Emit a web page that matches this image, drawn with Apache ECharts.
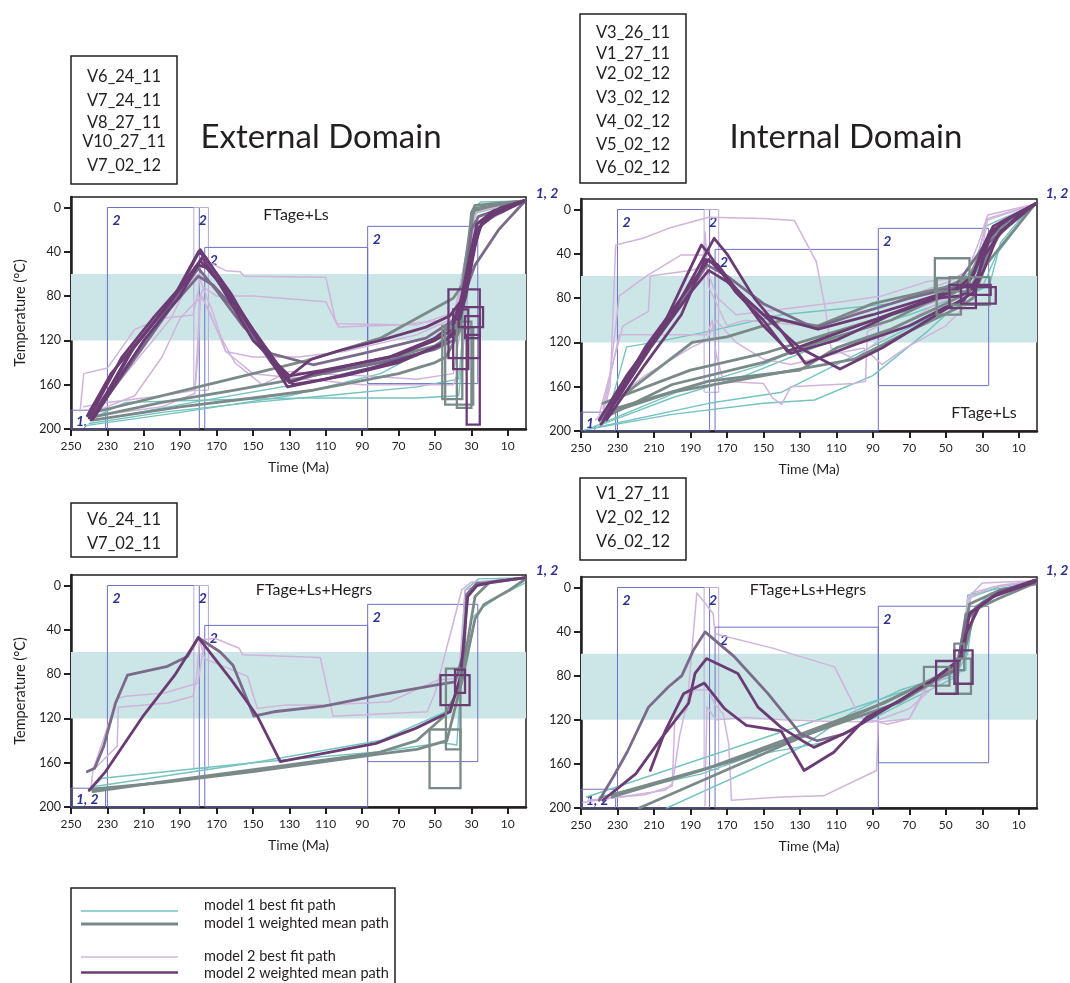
<!DOCTYPE html>
<html><head><meta charset="utf-8">
<script src="https://cdn.jsdelivr.net/npm/echarts@6.0.0/dist/echarts.min.js"></script>
<style>html,body{margin:0;padding:0;background:#fff}#c{width:1070px;height:983px}</style>
</head><body><div id="c"></div><script>
// ---------- axis ticks ----------
const xTicks = [250,230,210,190,170,150,130,110,90,70,50,30,10];
const yTicks = [0,40,80,120,160,200];
const bandRange = [60,120];
// constraint boxes [old Ma, young Ma, Tmin, Tmax]
const constraintBoxes = [[250,231,183,200],[230,179.5,0,200],[182.5,174.5,0,165],[176.5,87,36,200],[87,26.5,17,159]];
const constraintKinds = [0,0,1,0,0];
const constraintLabels = ['1,','2','2','2','2'];

// ---------- Panel 1: External, FTage+Ls ----------
const p1_m1Best = [
 [[240,195],[200,185],[150,176],[110,170],[60,162],[37,155],[35,120],[30,3],[25,-5],[1,-6]],
 [[238,190],[220,176],[180,174],[120,172],[60,172],[37,170],[33,100],[29,2],[20,-4],[1,-6]],
 [[242,197],[190,185],[130,170],[80,150],[45,120],[38,110],[32,60],[28,5],[1,-6]],
 [[236,192],[180,175],[120,158],[75,140],[48,115],[40,105],[30,15],[2,-4]]
];
const p1_m1Mean = [
 [[240,190],[200,176],[160,165],[120,153],[80,138],[50,125],[44,118],[38,115],[33,70],[30,5],[28,-2],[1,-6]],
 [[238,192],[190,180],[150,172],[117,165],[70,150],[50,140],[44,135],[36,110],[32,50],[29,3],[15,-3],[1,-6]],
 [[240,186],[180,162],[120,138],[80,118],[40,82],[35,70],[30,10],[28,1],[1,-6]]
];
const p1_mixMean = [
 [[238,189],[210,125],[195,90],[180,62],[172,70],[160,92],[140,140],[130,158],[118,152],[80,140],[50,128],[40,120],[34,80],[30,20],[26,8],[1,-6]],
 [[239,188],[205,110],[180,55],[170,75],[155,108],[140,132],[117,142],[90,132],[55,118],[40,102],[32,70],[28,52],[15,20],[1,-5]]
];
const p1_m2Best = [
 [[245,184],[243,150],[230,145],[215,110],[200,100],[183,97],[180,75],[178,42],[176,48],[165,57],[157,58],[155,62],[110,63],[105,100],[103,108],[70,106],[48,102],[38,95],[30,15],[26,2],[1,-6]],
 [[243,180],[230,176],[200,170],[182,165],[180,130],[179,80],[177,72],[170,80],[150,80],[110,85],[104,105],[60,106],[40,95],[32,60],[28,3],[1,-6]],
 [[240,182],[225,160],[210,130],[195,100],[186,70],[180,60],[178,70],[172,95],[165,130],[150,135],[125,135],[100,130],[60,115],[40,100],[30,20],[1,-6]],
 [[238,185],[215,170],[200,135],[190,100],[182,86],[178,80],[170,110],[160,140],[145,160],[130,148],[115,150],[90,152],[60,155],[40,150],[36,110],[30,10],[1,-6]],
 [[237,188],[200,180],[182,168],[179,80],[175,90],[165,130],[150,150],[120,155],[90,160],[40,160],[35,140],[30,5],[1,-6]]
];
const p1_m2Mean = [
 [[241,188],[228,150],[210,115],[195,85],[180,40],[176,45],[170,60],[160,85],[150,110],[135,145],[130,158],[117,150],[90,140],[70,133],[50,120],[42,112],[36,95],[32,60],[28,25],[22,10],[12,3],[1,-6]],
 [[240,190],[222,135],[205,100],[190,72],[179,38],[172,55],[162,78],[150,112],[132,155],[118,137],[100,128],[80,120],[55,108],[42,98],[36,85],[31,45],[27,15],[18,3],[1,-6]],
 [[238,191],[215,125],[198,90],[179,48],[170,65],[155,100],[131,162],[110,155],[85,145],[60,133],[45,122],[38,108],[33,80],[29,40],[24,12],[14,0],[1,-6]],
 [[237,189],[210,120],[190,80],[178,45],[168,70],[150,120],[130,152],[112,147],[75,135],[50,118],[40,105],[34,75],[28,25],[20,5],[1,-6]],
 [[239,192],[218,132],[200,95],[180,52],[174,55],[160,88],[140,135],[128,160],[100,152],[70,140],[48,125],[38,112],[32,70],[26,18],[16,5],[1,-6]]
];
const p1_m1Boxes = [[46,35,107,173],[44.4,29,109,178],[38,30,103,181]];
const p1_m2Boxes = [[42.6,25.4,74,136],[40,31.7,92,146],[37,23.6,90,108],[33.5,25.4,98,118],[32.6,25.4,115,196]];

// ---------- Panel 2: Internal, FTage+Ls ----------
const p2_m1Best = [
 [[248,199],[200,185],[150,175],[122,172],[90,150],[60,110],[40,80],[26,68],[20,30],[10,10],[1,-5]],
 [[245,198],[180,175],[140,165],[110,140],[80,115],[50,90],[30,70],[22,40],[1,-5]],
 [[240,195],[200,170],[160,150],[130,130],[100,110],[70,95],[45,80],[30,60],[25,20],[1,-5]],
 [[236,190],[225,124],[210,120],[180,110],[140,95],[110,90],[80,85],[50,72],[35,55],[28,15],[1,-5]],
 [[243,196],[190,160],[150,140],[120,118],[90,100],[60,85],[40,70],[30,50],[20,12],[1,-5]]
];
const p2_m1Mean = [
 [[238,175],[190,145],[150,130],[110,110],[70,90],[45,75],[35,60],[25,25],[15,10],[1,-5]],
 [[236,182],[180,155],[130,145],[110,125],[80,108],[50,85],[38,75],[28,45],[18,15],[1,-5]],
 [[240,190],[200,158],[150,138],[120,120],[80,100],[55,80],[40,70],[28,30],[20,12],[1,-5]],
 [[235,178],[189,120],[170,115],[140,100],[120,105],[90,85],[50,70],[36,60],[26,20],[1,-5]],
 [[237,185],[200,165],[150,150],[100,135],[70,110],[45,90],[35,80],[28,50],[1,-5]]
];
const p2_mixMean = [
 [[240,190],[215,130],[195,85],[181,50],[170,60],[150,85],[122,107],[100,95],[70,80],[45,70],[30,35],[1,-5]]
];
const p2_m2Best = [
 [[240,195],[234,160],[231,32],[216,26],[202,17],[180,7],[150,8],[133,10],[121,47],[116,90],[113,125],[100,135],[80,110],[55,85],[40,75],[33,50],[28,10],[1,-5]],
 [[238,180],[229,113],[181,113],[178,100],[176,130],[172,155],[150,157],[145,170],[140,176],[135,160],[100,157],[94,155],[93,110],[70,92],[50,80],[36,75],[25,40],[20,10],[1,-5]],
 [[236,175],[229,78],[214,60],[195,41],[183,41],[181,55],[175,80],[165,95],[150,92],[130,88],[110,84],[85,78],[60,65],[45,62],[35,60],[30,35],[27,8],[1,-5]],
 [[240,185],[227,105],[213,92],[212,60],[190,55],[183,52],[182,20],[180,70],[170,105],[160,100],[140,103],[118,106],[105,95],[85,88],[65,75],[48,65],[38,55],[32,30],[27,5],[1,-5]],
 [[242,190],[232,172],[215,150],[190,125],[181,118],[176,100],[165,120],[150,135],[135,140],[110,130],[95,125],[85,140],[72,125],[50,105],[38,85],[30,60],[24,25],[1,-5]]
];
const p2_m2Mean = [
 [[240,190],[225,150],[205,105],[184,32],[180,40],[165,75],[150,100],[137,128],[120,118],[90,100],[60,82],[48,75],[38,68],[30,40],[25,20],[15,8],[1,-5]],
 [[238,192],[220,140],[200,95],[177,26],[170,40],[155,80],[140,110],[127,139],[100,122],[70,105],[50,88],[40,82],[32,60],[26,25],[18,10],[1,-5]],
 [[237,188],[215,125],[195,80],[180,45],[160,80],[130,125],[108,144],[85,125],[60,100],[45,85],[35,75],[28,50],[22,25],[12,8],[1,-5]],
 [[239,194],[212,125],[190,75],[180,55],[170,65],[150,95],[120,108],[90,95],[60,80],[45,72],[35,60],[30,35],[24,15],[1,-5]],
 [[236,190],[215,140],[195,95],[182,45],[175,50],[150,105],[135,130],[110,118],[80,95],[55,80],[42,78],[34,70],[30,45],[20,20],[1,-5]]
];
const p2_m1Boxes = [[56,37,44,74],[55,41.7,62,95],[48,26,61,86]];
const p2_m2Boxes = [[48,33.5,68,89],[41.7,22.6,70,85],[38,25.4,68,77]];

// ---------- Panel 3: External, FTage+Ls+Hegrs ----------
const p3_m1Best = [
 [[240,185],[233,174],[150,160],[80,150],[46,142],[38,144],[36,91],[33.5,4],[26,-6],[1,-7]],
 [[239,182],[150,160],[80,140],[44,114],[36,90],[30,30],[24,20],[15,10],[1,-2]]
];
const p3_m1Mean = [
 [[240,184],[200,178],[150,168],[80,152],[60,148],[43.5,140],[35,85],[28,30],[23,17],[10,5],[1,-5]],
 [[238,186],[190,175],[130,162],[81.5,151],[60,140],[45,118],[37,94],[32,50],[28,10],[20,-3],[1,-7]]
];
const p3_mixMean = [
 [[241,168],[237,165],[232,145],[225.5,106],[219,81],[197,73],[186,64],[180,47],[168,60],[161,72],[149.5,118],[138.6,114],[111,109],[80.6,99],[50,90],[39,87],[34,60],[32.6,8],[27,-2],[17,-3],[1,-7]]
];
const p3_m2Best = [
 [[239,183],[238,167],[224.6,102],[220,100],[198.7,97],[180.3,88],[178.4,69],[176.6,49],[171,47.6],[157.6,56.6],[155.8,62.6],[113,65],[106,118],[54.3,114],[50,97],[35.3,4],[30,-3],[1,-7]],
 [[238,167],[224.6,145],[224,110],[196.6,106],[183,100],[181,82],[179.3,49],[176.6,66],[153,82],[147.6,111],[133,108],[110,108],[75,105],[48,85],[37,84],[33.5,4],[20,-4],[1,-7]]
];
const p3_m2Mean = [
 [[240,185],[231,168],[210,117],[193,81],[180,47],[162,85],[147.6,118],[135,159],[82.4,142.5],[60.7,129],[41.7,114],[36,82],[32,10],[27,0],[17,-3.6],[1,-7]]
];
const p3_m1Boxes = [[53,36,130,183],[44,36,75,148]];
const p3_m2Boxes = [[47,31,81,108],[39,33.5,76,97]];

// ---------- Panel 4: Internal, FTage+Ls+Hegrs ----------
const p4_m1Best = [
 [[203,200],[129.5,145],[102,114],[75,93],[39,75],[38,7],[21,1],[1,-4]],
 [[247,190],[80,98],[45,80],[38,60],[35,20],[25,5],[1,-3]],
 [[240,190],[184,169],[155,152],[115,140],[80.6,111],[43,80],[38,10],[20,-1],[1,-5]]
];
const p4_m1Mean = [
 [[233,190],[184,166],[129.5,133],[84,105],[48,75],[40,60],[33.5,17.6],[21,5],[1,-4]],
 [[218,200],[175,169],[129.5,136],[93,111],[57,84],[43,66],[39,24],[21,10],[1,-4]],
 [[233,188],[166,157],[120.5,130],[75,104],[43,72],[37,15],[20,2],[1,-3]]
];
const p4_mixMean = [
 [[240,193],[232,171],[224.6,149],[213,108.5],[202,90],[194.7,80],[188.4,57],[182,40.3],[165.8,63],[147.6,96],[129.5,133],[120.5,139],[106,133],[84.2,111.5],[57,84],[44.4,75],[39,30],[30,14.5],[21,4],[1,-6.7]]
];
const p4_m2Best = [
 [[249,195],[204,184],[200,178],[198.5,118],[192,111],[186.5,5],[182,14],[177.5,24],[176.5,42],[145,55],[111,72],[97,118],[82,124],[70,119],[61,90],[45,70],[39,45],[37,8],[30,-4],[1,-6]],
 [[246,193],[215,188],[200,180],[196,135],[192,105],[188,93],[180,93],[177,105],[172,115],[169,142],[167.5,193],[140,190],[117,189],[88,166],[87,122],[70,119],[60,90],[48,75],[40,65],[38,10],[25,0],[1,-6]],
 [[182,198],[181,108],[176,120],[160,118],[140,120],[120,121],[90,122],[70,110],[55,88],[42,68],[38,30],[36,5],[20,-2],[1,-6]]
];
const p4_m2Mean = [
 [[238,193],[220,169],[205.6,136],[191,105],[187.5,78],[181.2,64.5],[164,78],[153,108.5],[140.4,126.7],[127.7,140],[122.3,145],[102.4,130],[84,111],[57,84],[42.6,66],[39,42],[31.7,17.6],[21,5],[1,-6.7]],
 [[212,166],[203.8,130],[193.8,96.4],[182.4,86.7],[171.2,110],[159.4,125],[140.4,130],[127.7,166],[111.4,149.4],[93.3,117.6],[75,102.4],[57,84],[40.8,63],[37,23.6],[24.5,8.5],[1,-5]]
];
const p4_m1Boxes = [[62,48,72,89],[45.3,39.9,51,75],[44.4,36.2,64.5,96.4]];
const p4_m2Boxes = [[55.3,43.5,66.7,96.4],[45.3,35.3,57,87.3]];

// ---------- texts ----------
const panelTitles = ['FTage+Ls','FTage+Ls','FTage+Ls+Hegrs','FTage+Ls+Hegrs'];
const sampleLists = [
 ['V6_24_11','V7_24_11','V8_27_11','V10_27_11','V7_02_12'],
 ['V3_26_11','V1_27_11','V2_02_12','V3_02_12','V4_02_12','V5_02_12','V6_02_12'],
 ['V6_24_11','V7_02_11'],
 ['V1_27_11','V2_02_12','V6_02_12']
];
const legendNames = ['model 1 best fit path','model 1 weighted mean path','model 2 best fit path','model 2 weighted mean path'];

// ---------- styling / layout ----------
const FONT = 'Lato, "Liberation Sans", sans-serif';
const COL = {band:'#cce6e7', teal:'#74c3c0', gray:'#7a8a89', lilac:'#d0b4db', plum:'#6b3c74', mix:'#7a6b8a',
  blue:'#6b70c2', blueLt:'#b9aad9', lbl:'#2e3192', ink:'#231f20'};
const gridPos = [
  {left:71, top:197, width:455, height:232},
  {left:581, top:199, width:456, height:232},
  {left:71, top:575, width:455, height:232},
  {left:581, top:577, width:456, height:231}
];
const panels = [
  {m1Best:p1_m1Best,m1Mean:p1_m1Mean,mix:p1_mixMean,m2Best:p1_m2Best,m2Mean:p1_m2Mean,m1Boxes:p1_m1Boxes,m2Boxes:p1_m2Boxes},
  {m1Best:p2_m1Best,m1Mean:p2_m1Mean,mix:p2_mixMean,m2Best:p2_m2Best,m2Mean:p2_m2Mean,m1Boxes:p2_m1Boxes,m2Boxes:p2_m2Boxes},
  {m1Best:p3_m1Best,m1Mean:p3_m1Mean,mix:p3_mixMean,m2Best:p3_m2Best,m2Mean:p3_m2Mean,m1Boxes:p3_m1Boxes,m2Boxes:p3_m2Boxes},
  {m1Best:p4_m1Best,m1Mean:p4_m1Mean,mix:p4_mixMean,m2Best:p4_m2Best,m2Mean:p4_m2Mean,m1Boxes:p4_m1Boxes,m2Boxes:p4_m2Boxes}
];

function lines(paths, idx, color, width, z) {
  return paths.map(p => ({type:'line', xAxisIndex:idx, yAxisIndex:idx, data:p, symbol:'none', showSymbol:false,
    silent:true, animation:false, z:z, clip:true, lineStyle:{color:color, width:width, join:'round', cap:'round'}}));
}
function boxes(list, idx, color, width, z) {
  return {type:'custom', xAxisIndex:idx, yAxisIndex:idx, silent:true, animation:false, z:z,
    data:list, encode:{x:[0,1], y:[2,3]},
    renderItem:function(params, api){
      const a = api.coord([api.value(0), api.value(2)]);
      const b = api.coord([api.value(1), api.value(3)]);
      return {type:'rect', shape:{x:Math.min(a[0],b[0]), y:Math.min(a[1],b[1]), width:Math.abs(b[0]-a[0]), height:Math.abs(b[1]-a[1])},
        style:{fill:'none', stroke:color, lineWidth:width}};
    }};
}
function constraints(idx) {
  const data = constraintBoxes.map((b,i)=>[b[0],b[1],b[2],b[3],constraintKinds[i],i]);
  return {type:'custom', xAxisIndex:idx, yAxisIndex:idx, silent:true, animation:false, z:2,
    data:data, encode:{x:[0,1], y:[2,3]},
    renderItem:function(params, api){
      const a = api.coord([api.value(0), api.value(2)]);
      const b = api.coord([api.value(1), api.value(3)]);
      const x = Math.min(a[0],b[0]), y = Math.min(a[1],b[1]);
      const w = Math.abs(b[0]-a[0]), h = Math.abs(b[1]-a[1]);
      const kind = api.value(4), i = api.value(5);
      const txt = (i===0 && idx>=2) ? '1, 2' : constraintLabels[i];
      return {type:'group', children:[
        {type:'rect', shape:{x:x,y:y,width:w,height:h}, style:{fill:'none', stroke: kind ? COL.blueLt : COL.blue, lineWidth:1}},
        {type:'text', x: x + 5, y: i===0 ? y + h - 1 : y + 6,
          style:{text:txt, fill:COL.lbl, font:'italic bold 14px '+FONT, verticalAlign: i===0 ? 'bottom':'top', align:'left'}}
      ]};
    }};
}
function band(idx) {
  return {type:'custom', xAxisIndex:idx, yAxisIndex:idx, silent:true, animation:false, z:1,
    data:[[bandRange[0], bandRange[1]]], encode:{y:[0,1]},
    renderItem:function(params, api){
      const cs = params.coordSys;
      const y0 = api.coord([125, api.value(0)])[1], y1 = api.coord([125, api.value(1)])[1];
      return {type:'rect', shape:{x:cs.x, y:Math.min(y0,y1), width:cs.width, height:Math.abs(y1-y0)}, style:{fill:COL.band}};
    }};
}

const series = [];
panels.forEach((p, i) => {
  series.push(band(i));
  series.push(constraints(i));
  series.push(...lines(p.m1Best, i, COL.teal, 1.4, 3));
  series.push(...lines(p.m2Best, i, COL.lilac, 1.5, 3));
  series.push(...lines(p.m1Mean, i, COL.gray, 2.8, 4));
  series.push(...lines(p.mix, i, COL.mix, 2.8, 4));
  series.push(...lines(p.m2Mean, i, COL.plum, 2.8, 5));
  series.push(boxes(p.m1Boxes, i, COL.gray, 2.3, 6));
  series.push(boxes(p.m2Boxes, i, COL.plum, 2.3, 7));
});

const grid = gridPos.map(g => Object.assign({show:true, borderColor:COL.ink, borderWidth:1.5, backgroundColor:'transparent'}, g));
const xAxis = gridPos.map((g,i) => ({type:'value', gridIndex:i, inverse:true, min:0, max:250,
  axisLine:{show:true, onZero:false, lineStyle:{color:COL.ink, width:2.5}},
  axisTick:{show:true, customValues:xTicks, length:7, lineStyle:{color:COL.ink, width:2}},
  axisLabel:{customValues:xTicks, color:COL.ink, fontSize:12, fontFamily:FONT, margin:11},
  splitLine:{show:false},
  name:'Time (Ma)', nameLocation:'middle', nameGap:31, nameTextStyle:{color:COL.ink, fontSize:14, fontFamily:FONT}}));
const yAxis = gridPos.map((g,i) => ({type:'value', gridIndex:i, inverse:true, min:-9.5, max:200,
  axisLine:{show:true, onZero:false, lineStyle:{color:COL.ink, width:2.5}},
  axisTick:{show:true, customValues:yTicks, length:7, lineStyle:{color:COL.ink, width:2}},
  axisLabel:{customValues:yTicks, color:COL.ink, fontSize:12.5, fontFamily:FONT, margin:10},
  splitLine:{show:false},
  name: (i % 2 === 0) ? 'Temperature (°C)' : '', nameLocation:'middle', nameGap:43,
  nameTextStyle:{color:COL.ink, fontSize:14.5, fontFamily:FONT}}));

// ---------- annotation graphics ----------
const graphic = [];
const titlePos = [[296,215],[984,413],[314,590],[808,590]];
panelTitles.forEach((t,i)=>graphic.push({type:'text', x:titlePos[i][0], y:titlePos[i][1],
  style:{text:t, fill:COL.ink, font:'16px '+FONT, align:'center', verticalAlign:'middle'}, z:20}));
const cornerPos = [[547,193],[1057,193],[547,570],[1057,570]];
cornerPos.forEach(p=>graphic.push({type:'text', x:p[0], y:p[1],
  style:{text:'1, 2', fill:COL.lbl, font:'italic bold 14px '+FONT, align:'center', verticalAlign:'middle'}, z:20}));
graphic.push({type:'text', x:321, y:137, style:{text:'External Domain', fill:COL.ink, font:'33px '+FONT, align:'center', verticalAlign:'middle'}});
graphic.push({type:'text', x:846, y:137, style:{text:'Internal Domain', fill:COL.ink, font:'33px '+FONT, align:'center', verticalAlign:'middle'}});
const sampleBoxes = [
  {x:71, y:56, w:106, h:128, ys:[77,101,123,142,166]},
  {x:580, y:14, w:106, h:169, ys:[33,54,74,98,122,145,168]},
  {x:71, y:503, w:106, h:54, ys:[520,544]},
  {x:580, y:478, w:106, h:82, ys:[494,518,542]}
];
sampleBoxes.forEach((b,i)=>{
  graphic.push({type:'rect', shape:{x:b.x, y:b.y, width:b.w, height:b.h}, style:{fill:'none', stroke:COL.ink, lineWidth:1.5}});
  sampleLists[i].forEach((s,j)=>graphic.push({type:'text', x:b.x + b.w/2, y:b.ys[j],
    style:{text:s, fill:COL.ink, font:'16.5px '+FONT, align:'center', verticalAlign:'middle'}}));
});
// legend
graphic.push({type:'rect', shape:{x:71, y:888, width:324, height:120}, style:{fill:'none', stroke:COL.ink, lineWidth:1.5}});
const legCol = [COL.teal, COL.gray, COL.lilac, COL.plum];
const legW = [1.5, 3, 1.5, 2.5];
const legLineY = [911, 924, 957, 972.5];
const legTextY = [905, 923, 956, 973];
legendNames.forEach((n,i)=>{
  graphic.push({type:'line', shape:{x1:81, y1:legLineY[i], x2:178, y2:legLineY[i]}, style:{stroke:legCol[i], lineWidth:legW[i]}});
  graphic.push({type:'text', x:204, y:legTextY[i], style:{text:n, fill:COL.ink, font:'14.5px '+FONT, verticalAlign:'middle'}});
});

const chart = echarts.init(document.getElementById('c'), null, {renderer:'canvas'});
chart.setOption({animation:false, backgroundColor:'#fff', grid, xAxis, yAxis, series, graphic});
</script></body></html>
